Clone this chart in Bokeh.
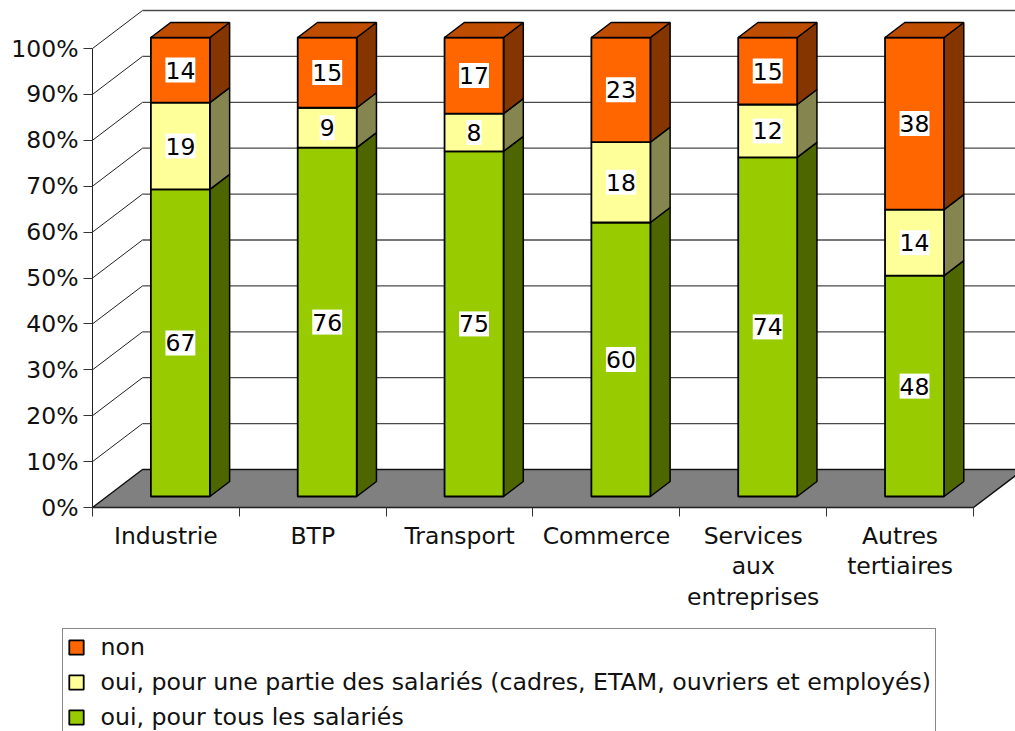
from bokeh.plotting import figure
from bokeh.models import Range1d, FixedTicker, PrintfTickFormatter, Legend, LegendItem, ColumnDataSource
from bokeh.core.properties import value
from bokeh.embed import file_html
from bokeh.resources import INLINE
import numpy as np

categories = ["Industrie", "BTP", "Transport", "Commerce", "Services\naux\nentreprises", "Autres\ntertiaires"]
# printed labels
oui_tous = [67, 76, 75, 60, 74, 48]
oui_partie = [19, 9, 8, 18, 12, 14]
non = [14, 15, 17, 23, 15, 38]
# segment heights (the labels above are these, rounded)
oui_tous_h = [66.9, 76.0, 75.2, 59.7, 73.9, 48.1]
oui_partie_h = [18.9, 8.7, 8.2, 17.5, 11.5, 14.4]
non_h = [14.2, 15.3, 16.6, 22.8, 14.6, 37.5]
y_ticks = [0, 10, 20, 30, 40, 50, 60, 70, 80, 90, 100]

series = [
    ("oui, pour tous les salariés", oui_tous, oui_tous_h, "#99CC00", "#4D6600"),
    ("oui, pour une partie des salariés (cadres, ETAM, ouvriers et employés)", oui_partie, oui_partie_h, "#FFFF99", "#858550"),
    ("non", non, non_h, "#FF6600", "#843500"),
]
TOP_COLOR = "#BF4D00"
FONT = "DejaVu Sans"
FS = "23.5px"

# 3D projection, in data units
SX, SY = 146.83, 4.59          # pixels per category, pixels per percent
DX, DY = 50 / SX, 38 / SY
F0, F1 = 11 / 38, 26 / 38
HALF = 29.5 / SX

n = len(categories)
p = figure(width=1015, height=731, output_backend="svg", toolbar_location=None,
           x_range=Range1d(-92 / SX, 923 / SX), y_range=Range1d(-224 / SY, 100 + 48 / SY),
           min_border=0, outline_line_color=None, background_fill_color="white", border_fill_color="white")
p.grid.visible = False

# walls
GRID = "#4a4a4a"
vals = np.array(y_ticks[1:], dtype=float)
p.segment(x0=np.zeros_like(vals), y0=vals, x1=np.full_like(vals, DX), y1=vals + DY, line_color="#222222", line_width=1)
p.segment(x0=np.full_like(vals, DX), y0=vals + DY, x1=np.full_like(vals, n + DX), y1=vals + DY, line_color=GRID, line_width=1.3)

# floor
p.patch(x=[0, n, n + DX, DX], y=[0, 0, DY, DY], fill_color="#808080", line_color="#111111", line_width=1.5)

# bars
xc = np.arange(n) + 0.5 + F0 * DX
left, right = xc - HALF, xc + HALF
y_base = F0 * DY
d_x, d_y = (F1 - F0) * DX, (F1 - F0) * DY
bottom = np.zeros(n)
items = []
lab_x, lab_y, lab_t = [], [], []
for name, labels, hs, col, side in series:
    top = bottom + np.array(hs, dtype=float)
    p.patches(xs=[[r, r + d_x, r + d_x, r] for r in right],
              ys=[[b + y_base, b + y_base + d_y, t + y_base + d_y, t + y_base] for b, t in zip(bottom, top)],
              fill_color=side, line_color="#000000", line_width=1.5)
    q = p.quad(left=left, right=right, bottom=bottom + y_base, top=top + y_base,
               fill_color=col, line_color="#000000", line_width=1.8)
    items.append(LegendItem(label=name, renderers=[q]))
    lab_x += list(xc)
    lab_y += list((bottom + top) / 2 + y_base)
    lab_t += [str(v) for v in labels]
    bottom = top

# bar tops
p.patches(xs=[[l, l + d_x, r + d_x, r] for l, r in zip(left, right)],
          ys=[[t + y_base, t + y_base + d_y, t + y_base + d_y, t + y_base] for t in bottom],
          fill_color=TOP_COLOR, line_color="#000000", line_width=1.5)

# value labels
src = ColumnDataSource(dict(x=lab_x, y=lab_y, t=lab_t))
p.text(x="x", y="y", text="t", source=src, text_align="center", text_baseline="middle",
       text_font=value(FONT), text_font_size=value(FS), text_color="#000000",
       background_fill_color="white", padding=(0, 4))

# axes
ya = p.yaxis[0]
ya.fixed_location = 0
ya.bounds = (0, 100)
ya.ticker = FixedTicker(ticks=y_ticks, minor_ticks=[])
ya.formatter = PrintfTickFormatter(format="%d%%")
ya.major_tick_in = 0
ya.major_tick_out = 9
ya.major_label_standoff = 5
ya.axis_line_color = "#222222"
ya.major_tick_line_color = "#333333"
ya.major_label_text_font = FONT
ya.major_label_text_font_size = FS
ya.major_label_text_color = "#111111"

xa = p.xaxis[0]
xa.fixed_location = 0
xa.bounds = (0, n)
centers = [i + 0.5 for i in range(n)]
xa.ticker = FixedTicker(ticks=centers, minor_ticks=list(range(n + 1)))
xa.major_label_overrides = {c: lab for c, lab in zip(centers, categories)}
xa.major_tick_line_color = None
xa.major_tick_in = 0
xa.major_tick_out = 0
xa.minor_tick_in = 0
xa.minor_tick_out = 9
xa.minor_tick_line_color = "#333333"
xa.axis_line_color = "#222222"
xa.major_label_standoff = 5
xa.major_label_text_font = FONT
xa.major_label_text_font_size = FS
xa.major_label_text_color = "#111111"
xa.major_label_text_line_height = 1.1

# legend, its box running past the page edge
legend = Legend(items=list(reversed(items)), location=(61.5, -5), orientation="vertical",
                label_text_font=FONT, label_text_font_size="23.65px", label_text_color="#111111",
                glyph_width=18, glyph_height=18, label_standoff=16, spacing=7,
                padding=4, margin=0, label_height=26,
                border_line_color="#111111", border_line_width=1, background_fill_color="white", background_fill_alpha=1)
p.add_layout(legend, "center")

open("out.html", "w").write(file_html(p, INLINE))
